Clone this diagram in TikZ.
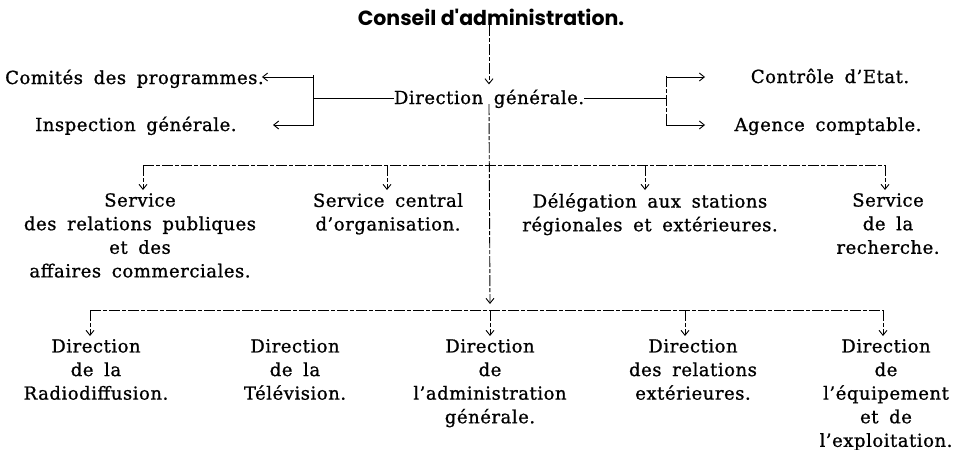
\documentclass[tikz,border=0pt]{standalone}
\usepackage{fontspec}
\setmainfont{DejaVu Serif}[LetterSpace=3, WordSpace=1.7, FakeBold=1]
\newfontfamily\titlefont{Poppins}
\usetikzlibrary{arrows.meta}
\begin{document}
\begin{tikzpicture}[x=1pt,y=-1pt,
  txt/.style={font=\fontsize{18}{23.6}\selectfont, align=center, inner sep=0pt},
  ttl/.style={font=\titlefont\bfseries\fontsize{20.5}{22}\selectfont, inner sep=0pt},
  solidln/.style={line width=0.9pt},
  brokenln/.style={line width=0.9pt, dash pattern=on 11pt off 2pt on 4pt off 2pt},
  tip/.style={-{Straight Barb[length=5pt,width=8pt,line width=0.9pt]}}
]
\useasboundingbox (0,0) rectangle (962,450);

% texts
\node[ttl, anchor=base] (conseil) at (491,25) {Conseil d'administration.};
\node[txt, anchor=base] (dg) at (489,104) {Direction générale.};
\node[txt, anchor=base west] (comites) at (5,84) {Comités des programmes.};
\node[txt, anchor=base west] (inspection) at (35,131) {Inspection générale.};
\node[txt, anchor=base] (controle) at (830,83) {Contrôle d'Etat.};
\node[txt, anchor=base] (agence) at (828,131) {Agence comptable.};

\node[txt, anchor=north] (srp) at (140,193) {Service\\des relations publiques\\et des\\affaires commerciales.};
\node[txt, anchor=north] (sco) at (388,193) {Service central\\d'organisation.};
\node[txt, anchor=north] (dsr) at (650,193) {Délégation aux stations\\régionales et extérieures.};
\node[txt, anchor=north] (sr) at (888,193) {Service\\de la\\recherche.};

\node[txt, anchor=north] (drad) at (96,339) {Direction\\de la\\Radiodiffusion.};
\node[txt, anchor=north] (dtel) at (295,339) {Direction\\de la\\Télévision.};
\node[txt, anchor=north] (dadm) at (490,339) {Direction\\de\\l'administration\\générale.};
\node[txt, anchor=north] (drel) at (693,339) {Direction\\des relations\\extérieures.};
\node[txt, anchor=north] (deq) at (886,339) {Direction\\de\\l'équipement\\et de\\l'exploitation.};

% coordinates
\coordinate (lbt) at (313,75);
\coordinate (lbb) at (313,126);
\coordinate (rbt) at (666,76);
\coordinate (rbb) at (666,126);
\coordinate (insptip) at (273,125);
\coordinate (ctrltip) at (705,77);
\coordinate (agtip) at (705,125);
\coordinate (rowA) at (490,165);
\coordinate (rowAl) at (143,165);
\coordinate (rowAr) at (885,165);
\coordinate (rowB) at (490,310);
\coordinate (rowBl) at (90,310);
\coordinate (rowBr) at (883,310);

% top connector
\draw[brokenln, tip, shorten >=5pt] (conseil.south -| dg.north) -- (dg.north);

% left bracket
\draw[solidln] (lbt) -- (lbb);
\draw[solidln] (dg.west) -- (dg.west -| lbt);
\draw[solidln, tip] (lbt |- 0,77) -- ([xshift=-2pt]comites.east |- 0,77);
\draw[solidln, tip] (lbb |- insptip) -- (insptip);

% right bracket
\draw[brokenln] (rbt) -- (rbb);
\draw[solidln] (dg.east) -- (dg.east -| rbt);
\draw[solidln, tip] (rbt |- ctrltip) -- (ctrltip);
\draw[solidln, tip] (rbb |- agtip) -- (agtip);

% main vertical
\draw[brokenln, tip] ([yshift=4pt]dg.south) -- ([yshift=6pt]rowB);

% row A
\draw[brokenln] (rowAl) -- (rowAr);
\foreach \n/\dx in {srp/3, sco/-1, dsr/-5, sr/-3}
  \draw[brokenln, tip] ([xshift=\dx pt]rowA -| \n.north) -- ([xshift=\dx pt, yshift=3pt]\n.north);

% row B
\draw[brokenln] (rowBl) -- (rowBr);
\foreach \n/\dx in {drad/-6, dadm/0, drel/-8, deq/-3}
  \draw[brokenln, tip] ([xshift=\dx pt]rowB -| \n.north) -- ([xshift=\dx pt, yshift=3pt]\n.north);

\end{tikzpicture}
\end{document}
